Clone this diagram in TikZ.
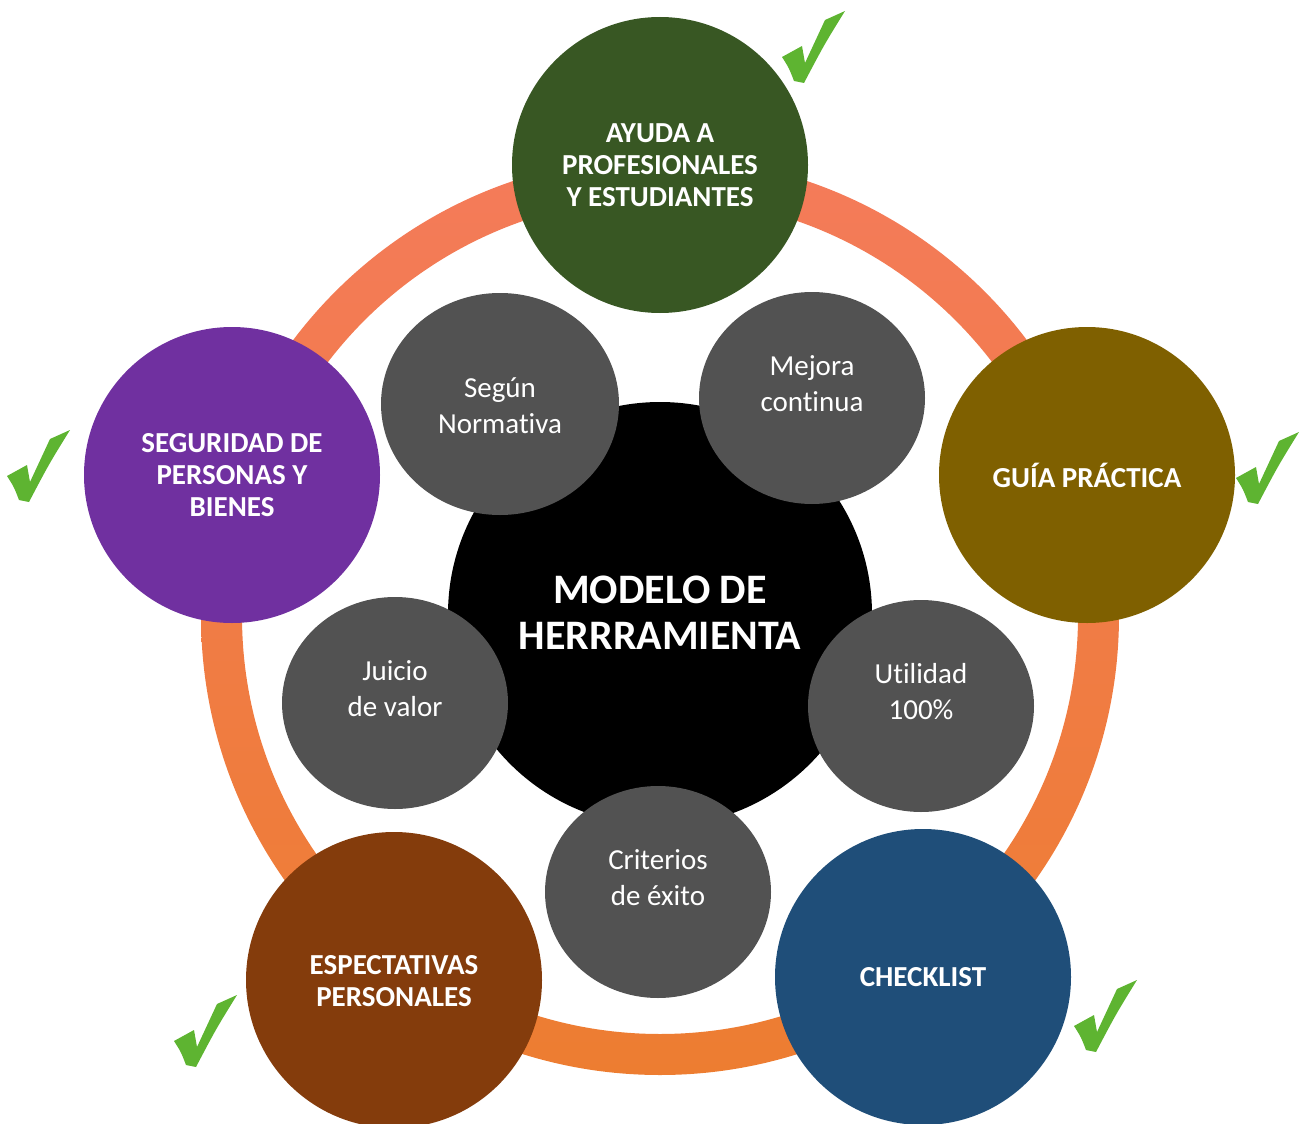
\documentclass[tikz,border=0pt]{standalone}
\usepackage{fontspec}
\setmainfont{Carlito}[Ligatures=NoCommon]
\usetikzlibrary{shapes.geometric}
\definecolor{ringtop}{HTML}{F47B5A}
\definecolor{ringbot}{HTML}{ED7D31}
\definecolor{cgreen}{HTML}{385723}
\definecolor{colive}{HTML}{7F6000}
\definecolor{cblue}{HTML}{1F4E79}
\definecolor{cbrown}{HTML}{843C0C}
\definecolor{cpurple}{HTML}{7030A0}
\definecolor{cgray}{HTML}{525252}
\definecolor{checkgreen}{HTML}{5EB431}
\tikzset{
  outercirc/.style={circle, minimum size=296pt, inner sep=0pt, draw=none},
  graybub/.style={ellipse, fill=cgray, minimum width=226pt, minimum height=212pt, inner sep=0pt},
  outertxt/.style={text=white, align=center, font=\fontsize{29}{32}\selectfont\bfseries},
  graytxt/.style={text=white, align=center, font=\fontsize{29}{36}\selectfont},
  centertxt/.style={text=white, align=center, font=\fontsize{42}{46}\selectfont\bfseries},
  checkmk/.pic={
    \fill[checkgreen] (-32,10) -- (-12,-1) -- (-9,16) -- (11,-27) -- (31,-36)
      .. controls (10,-2) .. (-10,36) -- (-20,34) .. controls (-25,21) .. cycle;
  }
}
\begin{document}
\begin{tikzpicture}[x=1pt,y=-1pt]
\useasboundingbox (0,0) rectangle (1304,1124);
% ring
\shade[top color=ringtop, bottom color=ringbot, even odd rule]
  (660,616) circle (459) (660,616) circle (418);
% outer circles
\node[outercirc, fill=cgreen] (ayuda) at (660,165) {};
\node[outercirc, fill=colive] (guia) at (1087,475) {};
\node[outercirc, fill=cblue] (check) at (923,977) {};
\node[outercirc, fill=cbrown] (espect) at (394,980) {};
\node[outercirc, fill=cpurple] (segur) at (232,475) {};
% centre circle
\node[circle, fill=black, minimum size=424pt, inner sep=0pt] (modelo) at (660,614) {};
% grey bubbles
\node[graybub, minimum width=238pt, minimum height=222pt] (segun) at (500,404) {};
\node[graybub] (mejora) at (812,398) {};
\node[graybub] (utilidad) at (921,706) {};
\node[graybub] (criterios) at (658,892) {};
\node[graybub] (juicio) at (395,703) {};
% texts
\node[outertxt] (tayuda) at (660,165) {AYUDA A\\PROFESIONALES\\Y ESTUDIANTES};
\node[outertxt] (tguia) at (1087,475) {GUÍA PRÁCTICA};
\node[outertxt] (tcheck) at (923,977) {CHECKLIST};
\node[outertxt] (tespect) at (394,981) {ESPECTATIVAS\\PERSONALES};
\node[outertxt] (tsegur) at (232,475) {SEGURIDAD DE\\PERSONAS Y\\BIENES};
\node[centertxt] (tmodelo) at (660,613) {MODELO DE\\HERRRAMIENTA};
\node[graytxt] (tsegun) at (500,406) {Según\\Normativa};
\node[graytxt] (tmejora) at (812,384) {Mejora\\continua};
\node[graytxt] (tutilidad) at (921,692) {Utilidad\\100\%};
\node[graytxt] (tcriterios) at (658,878) {Criterios\\de éxito};
\node[graytxt] (tjuicio) at (395,689) {Juicio\\de valor};
% check marks
\pic at (814,47) {checkmk};
\pic at (39,466) {checkmk};
\pic at (1268,468) {checkmk};
\pic at (1106,1016) {checkmk};
\pic at (206,1031) {checkmk};
\end{tikzpicture}
\end{document}
